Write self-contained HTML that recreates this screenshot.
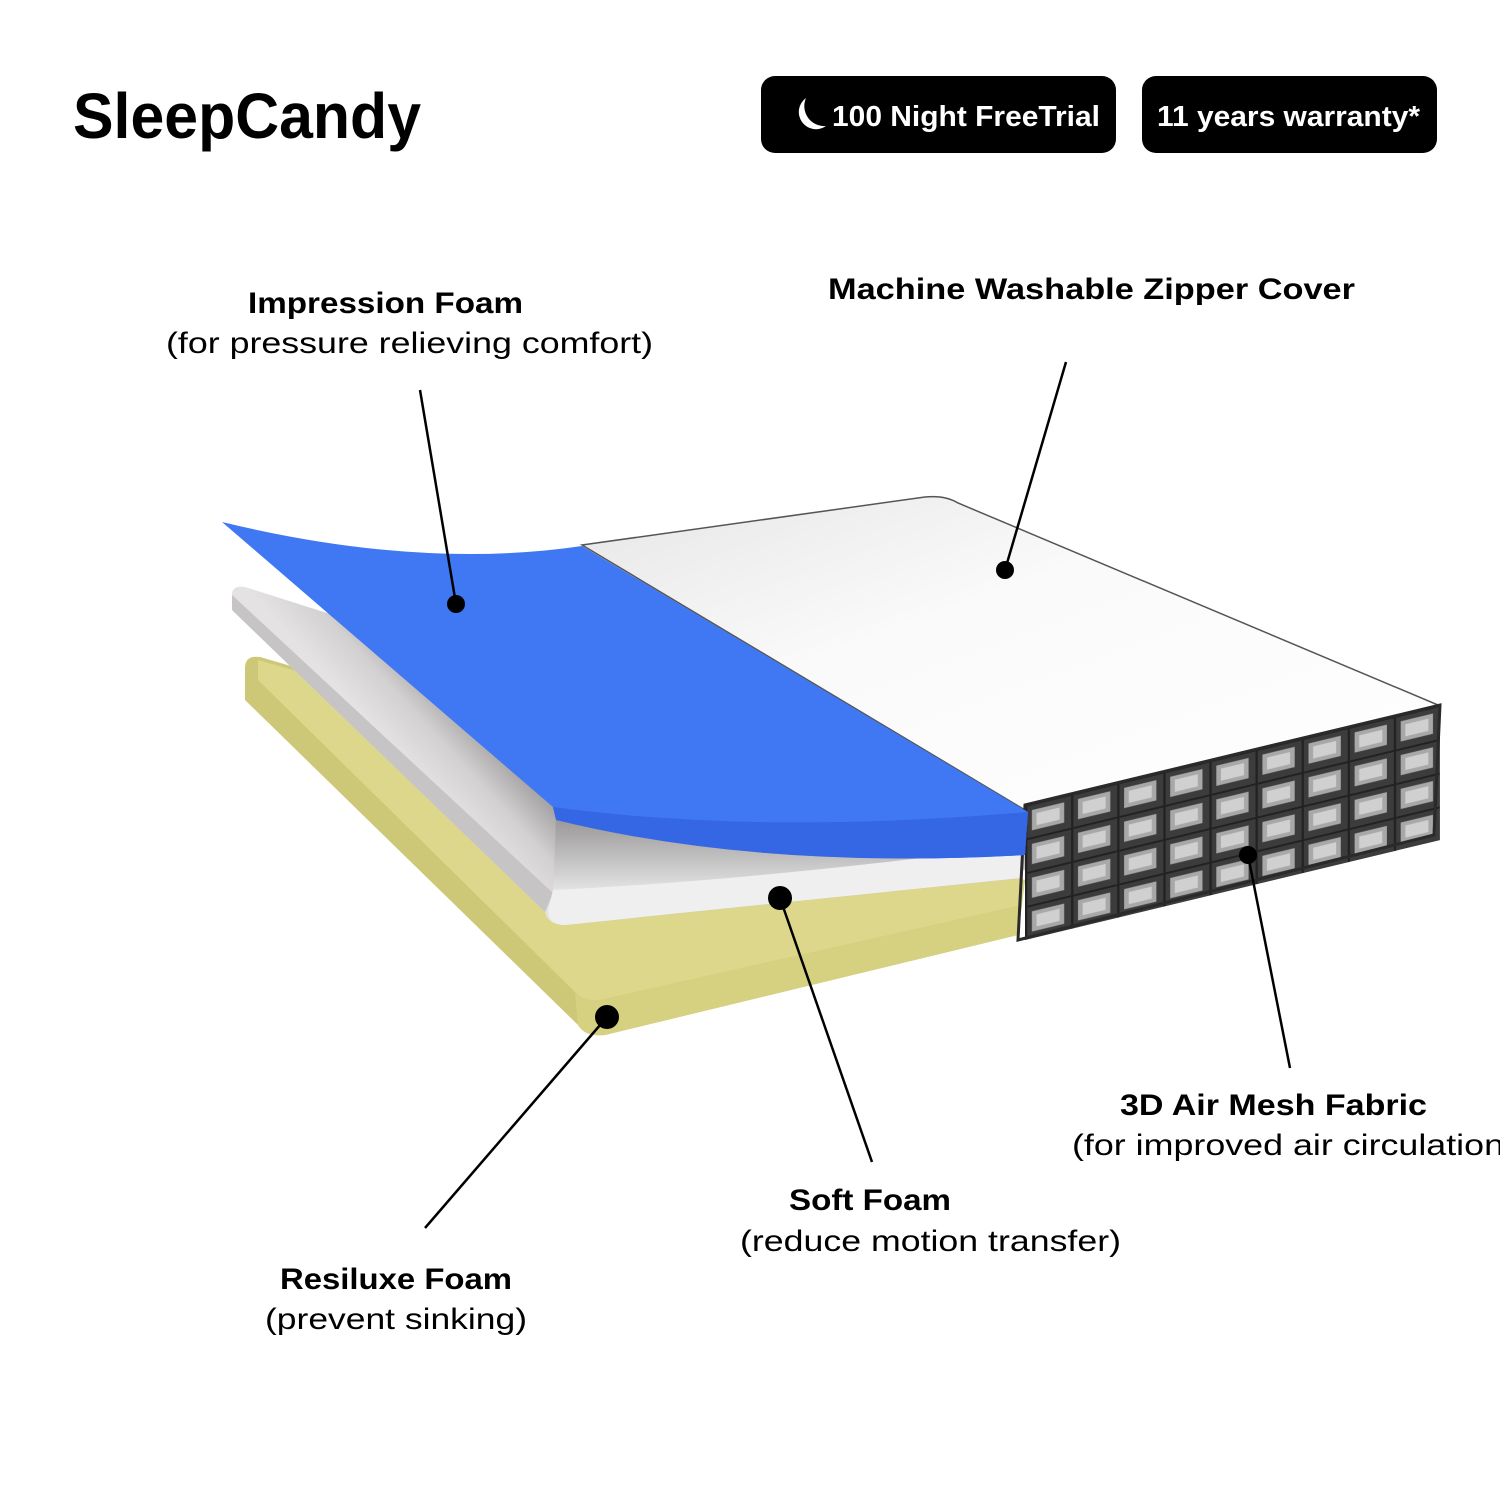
<!DOCTYPE html>
<html><head><meta charset="utf-8"><style>
html,body{margin:0;padding:0;background:#fff}
svg{display:block}
text{font-family:"Liberation Sans",sans-serif}
</style></head><body>
<svg width="1500" height="1500" viewBox="0 0 1500 1500" xmlns="http://www.w3.org/2000/svg">
<defs>
<linearGradient id="wt" x1="0" y1="0" x2="1" y2="1"><stop offset="0" stop-color="#e6e6e6"/><stop offset="0.4" stop-color="#fafafa"/><stop offset="1" stop-color="#ffffff"/></linearGradient>
<linearGradient id="sf" gradientUnits="userSpaceOnUse" x1="390" y1="745" x2="450" y2="690"><stop offset="0" stop-color="#e4e2e3"/><stop offset="0.5" stop-color="#d2d0d1"/><stop offset="1" stop-color="#a09e9f"/></linearGradient>
<linearGradient id="sff" x1="0" y1="0" x2="0" y2="1"><stop offset="0" stop-color="#9a9899"/><stop offset="1" stop-color="#e6e6e6"/></linearGradient>
<pattern id="mesh" patternUnits="userSpaceOnUse" width="1" height="1">
<rect width="1" height="1" fill="#3c3c3c"/>
<rect x="0.15" y="0.2" width="0.7" height="0.6" fill="#a8a8a8"/>
<rect x="0.25" y="0.32" width="0.5" height="0.36" fill="#d0d0d0"/>
<rect x="0" y="0" width="1" height="0.06" fill="#222"/>
<rect x="0" y="0" width="0.05" height="1" fill="#222"/>
</pattern>
</defs>

<text x="73" y="138" font-size="64" font-weight="700" textLength="348" lengthAdjust="spacingAndGlyphs" fill="#000">SleepCandy</text>

<rect x="761" y="76" width="355" height="77" rx="14" fill="#000"/>
<path d="M806 98 a17 17 0 1 0 20 28 a20 20 0 0 1 -20 -28z" fill="#fff"/>
<text x="832" y="126" font-size="29" font-weight="700" fill="#fff" textLength="268" lengthAdjust="spacingAndGlyphs">100 Night FreeTrial</text>
<rect x="1142" y="76" width="295" height="77" rx="14" fill="#000"/>
<text x="1157" y="126" font-size="29" font-weight="700" fill="#fff" textLength="263" lengthAdjust="spacingAndGlyphs">11 years warranty*</text>

<!-- yellow -->
<path d="M245 668 Q245 655 260 657 L1025 880 L1018 935 L605 1035 Q585 1037 578 1025 L245 700 Z" fill="#cdc877"/>
<path d="M258 660 L1025 880 L1022 905 L600 1000 Q585 1002 575 992 L258 680 Z" fill="#dcd78a"/>
<path d="M575 992 Q585 1002 600 1000 L1022 905 L1018 935 L605 1035 Q585 1037 578 1025 Z" fill="#d6d180"/>
<!-- soft foam -->
<path d="M232 595 Q232 585 245 587 L1025 835 L1022 878 L565 925 Q548 925 545 912 L232 610 Z" fill="url(#sf)"/>
<path d="M232 595 L553 893 L545 912 L232 610 Z" fill="#c6c4c5"/>
<path d="M556 820 Q760 870 1025 855 L1025 870 Q760 885 553 893 Z" fill="url(#sff)"/>
<path d="M553 890 Q760 880 1025 845 L1022 878 L565 925 Q548 925 548 910 Z" fill="#efefef"/>
<!-- white top cover -->
<path d="M582 545 L925 497 Q945 495 958 503 L1438 705 L1025 810 Z" fill="url(#wt)" stroke="#555" stroke-width="1.5"/>
<!-- mesh side -->
<g transform="matrix(46.1 -11.1 0 33.75 1025 805)">
<path d="M0 0 L9 0 L9 4 L0 4 Z" fill="url(#mesh)"/>
</g>
<path d="M1025 805 L1440 705 L1434 835 L1018 940 Z" fill="none" stroke="#2a2a2a" stroke-width="3"/>
<!-- blue -->
<path d="M222 522 Q420 570 582 546 L1028 812 L1025 855 Q760 870 556 818 L553 807 Z" fill="#3f78f2"/>
<path d="M553 807 Q760 835 1028 812 L1025 855 Q760 870 556 820 Z" fill="#3566e4"/>

<!-- leaders -->
<g stroke="#000" stroke-width="2.5">
<line x1="420" y1="390" x2="456" y2="604"/>
<line x1="1066" y1="362" x2="1005" y2="570"/>
<line x1="780" y1="898" x2="872" y2="1162"/>
<line x1="607" y1="1017" x2="425" y2="1228"/>
<line x1="1248" y1="855" x2="1290" y2="1068"/>
</g>
<g fill="#000">
<circle cx="456" cy="604" r="9"/><circle cx="1005" cy="570" r="9"/><circle cx="780" cy="898" r="12"/><circle cx="607" cy="1017" r="12"/><circle cx="1248" cy="855" r="9"/>
</g>

<g font-size="30" fill="#000">
<text x="248" y="313" font-weight="700" textLength="275" lengthAdjust="spacingAndGlyphs">Impression Foam</text>
<text x="166" y="353" textLength="487" lengthAdjust="spacingAndGlyphs">(for pressure relieving comfort)</text>
<text x="828" y="299" font-weight="700" textLength="527" lengthAdjust="spacingAndGlyphs">Machine Washable Zipper Cover</text>
<text x="1120" y="1115" font-weight="700" textLength="307" lengthAdjust="spacingAndGlyphs">3D Air Mesh Fabric</text>
<text x="1072" y="1155" textLength="432" lengthAdjust="spacingAndGlyphs">(for improved air circulation</text>
<text x="789" y="1210" font-weight="700" textLength="162" lengthAdjust="spacingAndGlyphs">Soft Foam</text>
<text x="740" y="1251" textLength="381" lengthAdjust="spacingAndGlyphs">(reduce motion transfer)</text>
<text x="280" y="1289" font-weight="700" textLength="232" lengthAdjust="spacingAndGlyphs">Resiluxe Foam</text>
<text x="265" y="1329" textLength="262" lengthAdjust="spacingAndGlyphs">(prevent sinking)</text>
</g>
</svg>
</body></html>
